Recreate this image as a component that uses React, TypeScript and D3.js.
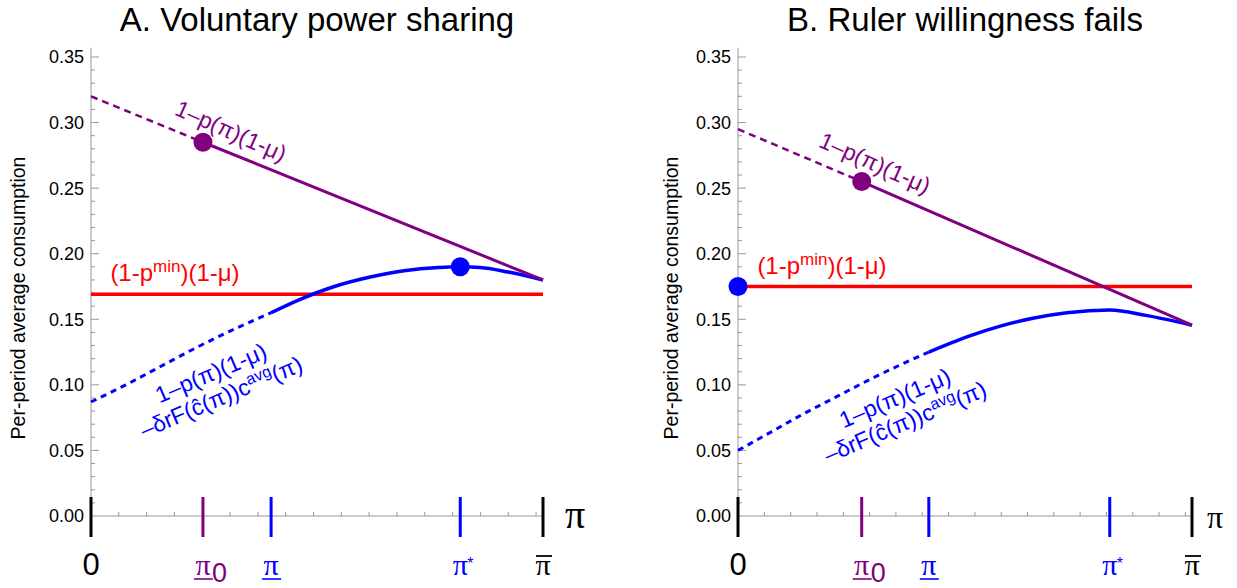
import React, { useEffect, useRef } from 'react';
import * as d3 from 'd3';

const PANEL_TITLES = ['A. Voluntary power sharing', 'B. Ruler willingness fails'];
const X_MAX = [0.65, 0.69];
const Y_TICKS = [0, 0.05, 0.1, 0.15, 0.2, 0.25, 0.3, 0.35];

// 1-p(pi)(1-mu): at 0, at pi_0, at pi-bar
const PURPLE_A: [number, number][] = [[0, 0.32], [0.161, 0.285], [0.65, 0.18]];
const PURPLE_B: [number, number][] = [[0, 0.295], [0.188, 0.255], [0.69, 0.1455]];

// (1-p^min)(1-mu)
const RED_A = 0.169;
const RED_B = 0.175;

// 1-p(pi)(1-mu) - delta r F(c(pi)) c^avg(pi)
const BLUE_A: [number, number][] = [
    [0, 0.087], [0.05, 0.1], [0.1, 0.114], [0.15, 0.128], [0.2, 0.141], [0.259, 0.155],
    [0.3, 0.165], [0.35, 0.175], [0.4, 0.182], [0.45, 0.187], [0.5, 0.1895], [0.531, 0.19],
    [0.56, 0.1895], [0.6, 0.186], [0.65, 0.18]
];
const BLUE_B: [number, number][] = [
    [0, 0.05], [0.05, 0.064], [0.1, 0.078], [0.15, 0.091], [0.2, 0.104], [0.25, 0.116],
    [0.29, 0.125], [0.35, 0.137], [0.4, 0.145], [0.45, 0.151], [0.5, 0.155], [0.565, 0.157],
    [0.62, 0.153], [0.69, 0.1455]
];

const PI0 = [0.161, 0.188];
const PI_LOW = [0.259, 0.29];
const PI_STAR = [0.531, 0.565];
// blue dot: [x, y]
const BLUE_DOT: [number, number][] = [[0.531, 0.19], [0, 0.175]];

const PURPLE = '#800080';
const BLUE = '#0000ff';
const RED = '#ff0000';
const GRAY = '#999999';
const SANS = '"Liberation Sans", Arial, sans-serif';
const SERIF = '"Liberation Serif", "Times New Roman", serif';

const PANELS = [
    {
        title: PANEL_TITLES[0], xMax: X_MAX[0], xRange: [91, 543], purple: PURPLE_A, red: RED_A, blue: BLUE_A,
        pi0: PI0[0], piLow: PI_LOW[0], piStar: PI_STAR[0], dot: BLUE_DOT[0],
        yLabelX: 25, piAxis: { dx: 32, size: 40 },
        purpleLabel: [231, 131], redLabelX: 175, redLabelY: 281, blueLabel: [216, 385]
    },
    {
        title: PANEL_TITLES[1], xMax: X_MAX[1], xRange: [738, 1192], purple: PURPLE_B, red: RED_B, blue: BLUE_B,
        pi0: PI0[1], piLow: PI_LOW[1], piStar: PI_STAR[1], dot: BLUE_DOT[1],
        yLabelX: 678, piAxis: { dx: 23, size: 32 },
        purpleLabel: [875, 163], redLabelX: 822, redLabelY: 274, blueLabel: [900, 410]
    }
];

const drawPanel = (svg, p) => {
    const x = d3.scaleLinear().domain([0, p.xMax]).range(p.xRange);
    const y = d3.scaleLinear().domain([0, 0.35]).range([516, 57]);
    const g = svg.append('g');
    const x0 = x(0);
    const y0 = y(0);

    g.append('text')
        .attr('x', (x(0) + x(p.xMax)) / 2)
        .attr('y', 31)
        .attr('text-anchor', 'middle')
        .style('font-size', '33px')
        .text(p.title);

    // y axis
    g.append('line')
        .attr('x1', x0).attr('x2', x0)
        .attr('y1', y(0.357)).attr('y2', y0)
        .attr('stroke', GRAY).attr('stroke-width', 1);
    d3.range(1, 36).forEach(i => {
        const major = i % 5 === 0;
        g.append('line')
            .attr('x1', x0).attr('x2', x0 + (major ? 8 : 4))
            .attr('y1', y(i / 100)).attr('y2', y(i / 100))
            .attr('stroke', GRAY).attr('stroke-width', 1);
    });
    Y_TICKS.forEach(t => {
        g.append('text')
            .attr('x', x0 - 7)
            .attr('y', y(t))
            .attr('dy', '0.36em')
            .attr('text-anchor', 'end')
            .style('font-size', '18px')
            .text(t.toFixed(2));
    });
    g.append('text')
        .attr('transform', `translate(${p.yLabelX}, 298) rotate(-90)`)
        .attr('text-anchor', 'middle')
        .style('font-size', '19.5px')
        .text('Per-period average consumption');

    // x axis
    g.append('line')
        .attr('x1', x0).attr('x2', x(p.xMax))
        .attr('y1', y0).attr('y2', y0)
        .attr('stroke', GRAY).attr('stroke-width', 1);
    d3.range(1, Math.floor(p.xMax / 0.04) + 1).forEach(i => {
        const xv = x(i * 0.04);
        if (xv > x(p.xMax) - 2) return;
        g.append('line')
            .attr('x1', xv).attr('x2', xv)
            .attr('y1', y0).attr('y2', y0 - 4)
            .attr('stroke', GRAY).attr('stroke-width', 1);
    });

    const bigTicks = [
        { v: 0, c: 'black' },
        { v: p.pi0, c: PURPLE },
        { v: p.piLow, c: BLUE },
        { v: p.piStar, c: BLUE },
        { v: p.xMax, c: 'black' }
    ];
    bigTicks.forEach(t => {
        g.append('line')
            .attr('x1', x(t.v)).attr('x2', x(t.v))
            .attr('y1', y0 - 19).attr('y2', y0 + 21)
            .attr('stroke', t.c).attr('stroke-width', 3);
    });

    // x tick labels
    const lblY = 575;
    g.append('text').attr('x', x(0)).attr('y', lblY).attr('text-anchor', 'middle')
        .style('font-size', '31px').text('0');

    const piText = (xv, color) => {
        g.append('text').attr('x', xv).attr('y', lblY).attr('text-anchor', 'middle')
            .style('font-family', SERIF).style('font-size', '30px').attr('fill', color).text('π');
    };
    // pi_0
    piText(x(p.pi0), PURPLE);
    g.append('text').attr('x', x(p.pi0) + 9).attr('y', lblY + 7)
        .style('font-size', '27px').attr('fill', PURPLE).text('0');
    g.append('line').attr('x1', x(p.pi0) - 9).attr('x2', x(p.pi0) + 10)
        .attr('y1', lblY + 4).attr('y2', lblY + 4).attr('stroke', PURPLE).attr('stroke-width', 1.6);
    // underlined pi
    piText(x(p.piLow), BLUE);
    g.append('line').attr('x1', x(p.piLow) - 9).attr('x2', x(p.piLow) + 10)
        .attr('y1', lblY + 4).attr('y2', lblY + 4).attr('stroke', BLUE).attr('stroke-width', 1.6);
    // pi star
    piText(x(p.piStar), BLUE);
    g.append('text').attr('x', x(p.piStar) + 7).attr('y', lblY - 6)
        .style('font-size', '16px').attr('fill', BLUE).text('*');
    // pi bar
    piText(x(p.xMax), 'black');
    g.append('line').attr('x1', x(p.xMax) - 7).attr('x2', x(p.xMax) + 9)
        .attr('y1', lblY - 19).attr('y2', lblY - 19).attr('stroke', 'black').attr('stroke-width', 1.8);

    // axis label pi
    g.append('text').attr('x', x(p.xMax) + p.piAxis.dx).attr('y', y0 + 12)
        .attr('text-anchor', 'middle')
        .style('font-family', SERIF).style('font-size', `${p.piAxis.size}px`).text('π');

    const line = d3.line<[number, number]>().x(d => x(d[0])).y(d => y(d[1]));
    const curve = d3.line<[number, number]>().x(d => x(d[0])).y(d => y(d[1])).curve(d3.curveMonotoneX);

    // red
    g.append('line')
        .attr('x1', x(0)).attr('x2', x(p.xMax))
        .attr('y1', y(p.red)).attr('y2', y(p.red))
        .attr('stroke', RED).attr('stroke-width', 3.5);

    // blue
    g.append('path').datum(p.blue.filter(d => d[0] <= p.piLow))
        .attr('d', curve).attr('fill', 'none').attr('stroke', BLUE)
        .attr('stroke-width', 3).attr('stroke-dasharray', '6,5');
    g.append('path').datum(p.blue.filter(d => d[0] >= p.piLow))
        .attr('d', curve).attr('fill', 'none').attr('stroke', BLUE)
        .attr('stroke-width', 3.5);

    // purple
    g.append('path').datum(p.purple.slice(0, 2))
        .attr('d', line).attr('fill', 'none').attr('stroke', PURPLE)
        .attr('stroke-width', 2.5).attr('stroke-dasharray', '7,5');
    g.append('path').datum(p.purple.slice(1))
        .attr('d', line).attr('fill', 'none').attr('stroke', PURPLE)
        .attr('stroke-width', 3);

    g.append('circle').attr('cx', x(p.purple[1][0])).attr('cy', y(p.purple[1][1]))
        .attr('r', 9.5).attr('fill', PURPLE);
    g.append('circle').attr('cx', x(p.dot[0])).attr('cy', y(p.dot[1]))
        .attr('r', 9.5).attr('fill', BLUE);

    // labels
    g.append('text')
        .attr('transform', `translate(${p.purpleLabel[0]}, ${p.purpleLabel[1]}) rotate(24)`)
        .attr('text-anchor', 'middle').attr('dy', '0.35em')
        .attr('fill', PURPLE).style('font-size', '23px')
        .text('1–p(π)(1-μ)');

    const red = g.append('text')
        .attr('x', p.redLabelX).attr('y', p.redLabelY)
        .attr('text-anchor', 'middle').attr('fill', RED).style('font-size', '24px');
    red.append('tspan').text('(1-p');
    red.append('tspan').attr('dy', -9).style('font-size', '17px').text('min');
    red.append('tspan').attr('dy', 9).text(')(1-μ)');

    const bl = g.append('g')
        .attr('transform', `translate(${p.blueLabel[0]}, ${p.blueLabel[1]}) rotate(-23)`)
        .attr('fill', BLUE).style('font-size', '23px');
    bl.append('text').attr('text-anchor', 'middle').attr('y', -5).text('1–p(π)(1-μ)');
    const l2 = bl.append('text').attr('text-anchor', 'middle').attr('y', 21);
    l2.append('tspan').text('–δrF(ĉ(π))c');
    l2.append('tspan').attr('dy', -8).style('font-size', '16px').text('avg');
    l2.append('tspan').attr('dy', 8).text('(π)');
};

const App = () => {
    const svgRef = useRef<SVGSVGElement>(null);

    useEffect(() => {
        const svg = d3.select(svgRef.current);
        svg.selectAll('*').remove();
        PANELS.forEach(p => drawPanel(svg, p));
    }, []);

    return (
        <svg
            ref={svgRef}
            width={1237}
            height={588}
            style={{ position: 'absolute', left: 0, top: 0, background: 'white', fontFamily: SANS }}
        />
    );
};

export default App;
